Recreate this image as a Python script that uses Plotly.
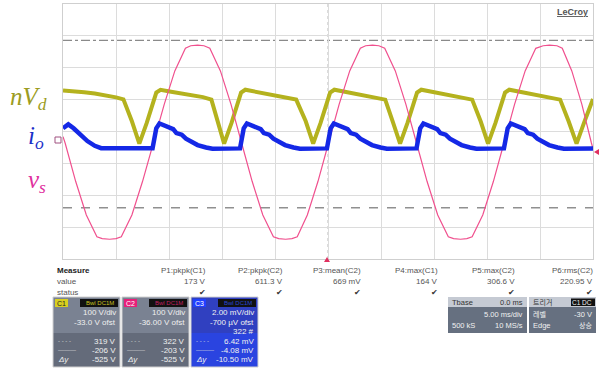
import plotly.graph_objects as go

W, H = 601, 369

# ---------------- data (time in ms, 5 ms/div) ----------------
# v_s on C2 (V)
vs_t = [0, 0.2, 1.2, 2.2, 3.2, 3.7, 4.4, 5.0, 5.5, 6.5, 7.5, 8.55,
        9.55, 10.55, 11.55, 12.05, 12.7, 13.3, 13.85, 14.85, 15.85, 16.85,
        17.85, 18.85, 19.85, 20.35, 21.0, 21.6, 22.1, 23.05, 24.05, 25.05,
        26.05, 27.05, 28.05, 28.55, 29.2, 29.8, 30.35, 31.35, 32.35, 33.35,
        34.35, 35.35, 36.35, 36.85, 37.5, 38.1, 38.6, 39.6, 40.6, 41.6,
        42.6, 43.6, 44.6, 45.3, 45.9, 46.6, 47.1, 48.0, 48.95, 49.85, 50.0]
vs_v = [20, 0, -121, -226, -294, -300, -302, -300, -294, -226, -121, 0,
        121, 226, 297, 305, 307, 305, 297, 226, 121, 0,
        -121, -226, -294, -300, -302, -300, -294, -226, -121, 0,
        121, 226, 297, 305, 307, 305, 297, 226, 121, 0,
        -121, -226, -294, -300, -302, -300, -294, -226, -121, 0,
        121, 226, 297, 305, 307, 305, 297, 226, 121, 0, -18]

# nV_d on C1 (V)
vd_t = [0, 1.0, 2.0, 3.0, 4.0, 5.0, 5.7, 6.5, 7.2,
        7.9, 8.8, 9.2, 10.2, 11.2, 12.2, 13.2, 14.0, 14.5, 15.2,
        15.9, 16.8, 17.2, 18.2, 19.2, 20.2, 21.2, 22.0, 22.9, 23.6,
        24.3, 25.2, 25.6, 26.6, 27.6, 28.6, 29.6, 30.4, 31.1, 31.8,
        32.5, 33.4, 33.8, 34.8, 35.8, 36.8, 37.8, 38.6, 39.4, 40.1,
        40.8, 41.7, 42.1, 43.1, 44.1, 45.1, 46.1, 46.9, 47.7, 48.45,
        49.15, 50.0]
vd_v = [162, 160, 156, 152, 147, 140, 134, 65, -5,
        60, 155, 164, 158, 153, 147, 141, 133, 75, -5,
        60, 155, 164, 158, 153, 147, 141, 133, 65, -5,
        60, 155, 164, 158, 153, 147, 141, 133, 65, -5,
        60, 155, 164, 158, 153, 147, 141, 133, 65, -5,
        60, 155, 164, 158, 153, 147, 141, 133, 65, -5,
        60, 135]

# i_o on C3 (mV)
io_t = [0, 0.5, 1.0, 1.6, 2.3, 3.0, 3.6, 8.45,
        8.8, 9.1, 9.5, 10.0, 10.4, 10.7, 11.2, 11.6, 12.1, 12.7, 13.5, 14.1, 16.7,
        17.05, 17.35, 17.75, 18.25, 18.65, 18.95, 19.45, 19.85, 20.35, 20.95, 21.75, 22.35, 24.9,
        25.25, 25.55, 25.95, 26.45, 26.85, 27.15, 27.65, 28.05, 28.55, 29.15, 29.95, 30.55, 33.35,
        33.7, 34.0, 34.4, 34.9, 35.3, 35.6, 36.1, 36.5, 37.0, 37.6, 38.4, 39.0, 41.6,
        41.95, 42.25, 42.65, 43.15, 43.55, 43.85, 44.35, 44.75, 45.25, 45.85, 46.65, 47.25, 50.0]
io_v = [0.9, 1.15, 0.9, 0.5, 0.1, -0.2, -0.35, -0.35,
        0.9, 1.2, 1.1, 1.0, 0.85, 0.6, 0.5, 0.25, 0.1, -0.15, -0.3, -0.38, -0.36,
        0.9, 1.2, 1.1, 1.0, 0.85, 0.6, 0.5, 0.25, 0.1, -0.15, -0.3, -0.38, -0.36,
        0.9, 1.2, 1.1, 1.0, 0.85, 0.6, 0.5, 0.25, 0.1, -0.15, -0.3, -0.38, -0.36,
        0.9, 1.2, 1.1, 1.0, 0.85, 0.6, 0.5, 0.25, 0.1, -0.15, -0.3, -0.38, -0.36,
        0.9, 1.2, 1.1, 1.0, 0.85, 0.6, 0.5, 0.25, 0.1, -0.15, -0.3, -0.38, -0.36]

# channel settings: (scale per div, offset)
c1_scale, c1_ofst = 100.0, -33.0
c2_scale, c2_ofst = 100.0, -36.0
c3_scale, c3_ofst = 2.0, -0.7

cursor_hi, cursor_lo = 322, -203   # C2 volts

meas_names = ["P1:pkpk(C1)", "P2:pkpk(C2)", "P3:mean(C2)", "P4:max(C1)", "P5:max(C2)", "P6:rms(C2)"]
meas_vals = ["173 V", "611.3 V", "669 mV", "164 V", "306.6 V", "220.95 V"]

# ---------------- helpers ----------------
def to_div(vals, scale, ofst):
    return [(v + ofst) / scale for v in vals]

def px(x):
    return x / W

def py(y):
    return 1 - y / H

YEL = "#b4b21e"
BLU = "#1428e6"
PNK = "#f0508e"

fig = go.Figure()
fig.add_trace(go.Scatter(x=vd_t, y=to_div(vd_v, c1_scale, c1_ofst), mode="lines",
                         line=dict(color=YEL, width=4), hoverinfo="skip"))
fig.add_trace(go.Scatter(x=vs_t, y=to_div(vs_v, c2_scale, c2_ofst), mode="lines",
                         line=dict(color=PNK, width=1.2), hoverinfo="skip"))
fig.add_trace(go.Scatter(x=io_t, y=to_div(io_v, c3_scale, c3_ofst), mode="lines",
                         line=dict(color=BLU, width=4.5), hoverinfo="skip"))

shapes = []
# cursors
shapes.append(dict(type="line", xref="x", yref="y", x0=0, x1=50,
                   y0=(cursor_hi + c2_ofst) / c2_scale, y1=(cursor_hi + c2_ofst) / c2_scale,
                   line=dict(color="#8a8a8a", width=1.2, dash="dashdot"), layer="below"))
shapes.append(dict(type="line", xref="x", yref="y", x0=0, x1=50,
                   y0=(cursor_lo + c2_ofst) / c2_scale, y1=(cursor_lo + c2_ofst) / c2_scale,
                   line=dict(color="#909090", width=1.6, dash="dash"), layer="below"))
# center dotted vertical
shapes.append(dict(type="line", xref="x", yref="y", x0=25, x1=25, y0=-4, y1=4,
                   line=dict(color="#b8b8b8", width=1, dash="dot"), layer="below"))

ann = []
def txt(x, y, s, size=8, color="#555", xanchor="left", bold=False, family="Liberation Sans, Arial", italic=False):
    if bold:
        s = "<b>" + s + "</b>"
    if italic:
        s = "<i>" + s + "</i>"
    ann.append(dict(x=px(x), y=py(y), xref="paper", yref="paper", text=s, showarrow=False,
                    xanchor=xanchor, yanchor="middle", font=dict(size=size, color=color, family=family)))

# side labels
txt(8, 98, "nV<sub>d</sub>", size=25, color="#9c9c22", family="Liberation Serif, DejaVu Serif", italic=True)
txt(26, 137, "i<sub>o</sub>", size=25, color="#1a30c8", family="Liberation Serif, DejaVu Serif", italic=True)
txt(26, 181, "v<sub>s</sub>", size=25, color="#e0309e", family="Liberation Serif, DejaVu Serif", italic=True)

# LeCroy logo
txt(572, 12, "<u>LeCroy</u>", size=9, color="#555", xanchor="center", bold=True)

# small markers
shapes.append(dict(type="rect", xref="paper", yref="paper", x0=px(55), x1=px(61), y0=py(143), y1=py(137),
                   line=dict(color="#a05080", width=1), fillcolor="rgba(0,0,0,0)"))
shapes.append(dict(type="path", xref="paper", yref="paper",
                   path=f"M {px(594)},{py(152)} L {px(599)},{py(149)} L {px(599)},{py(155)} Z",
                   fillcolor="#e03060", line=dict(width=0)))
shapes.append(dict(type="path", xref="paper", yref="paper",
                   path=f"M {px(324)},{py(262)} L {px(330)},{py(262)} L {px(327)},{py(257)} Z",
                   fillcolor="#e03060", line=dict(width=0)))

# measure table
txt(55, 270, "Measure", size=8, color="#222", bold=True)
txt(55, 281, "value", size=8, color="#555")
txt(55, 292, "status", size=8, color="#555")
col_r = [208, 285, 363, 440, 517, 595]
for xr, nm, vl in zip(col_r, meas_names, meas_vals):
    txt(xr, 270, nm, size=8, color="#555", xanchor="right")
    txt(xr, 281, vl, size=8, color="#555", xanchor="right")
    txt(xr, 292, "✔", size=8, color="#333", xanchor="right")

def rect(x0, y0, x1, y1, fill, line=None):
    shapes.append(dict(type="rect", xref="paper", yref="paper", x0=px(x0), x1=px(x1), y0=py(y1), y1=py(y0),
                       fillcolor=fill, line=dict(width=0) if line is None else line, layer="above"))

# channel boxes
boxes = [
    (53, 120, "C1", "#d8d020", "#222", "Bwl DC1M", "#c8c020",
     ["100 V/div", "-33.0 V ofst"], ["319 V", "-206 V", "-525 V"], "#7a8292", "#646b7a"),
    (122, 189, "C2", "#e8207a", "#e8207a", "Bwl DC1M", "#c02060",
     ["100 V/div", "-36.00 V ofst"], ["322 V", "-203 V", "-525 V"], "#7a8292", "#646b7a"),
    (191, 258, "C3", "#2040ff", "#2040ff", "Bwl DC1M", "#2848d0",
     ["2.00 mV/div", "-700 µV ofst", "322 #"], ["6.42 mV", "-4.08 mV", "-10.50 mV"], "#3040c0", "#2a44e0"),
]
for x0, x1, lab, bcol, labcol, hdr, hcol, top, bot, c_top, c_bot in boxes:
    rect(x0, 297, x1, 367, c_top)
    rect(x0, 333, x1, 367, c_bot)
    rect(x0 + 2, 299, x0 + 15, 307, bcol)
    rect(x0 + 27, 299, x1 - 2, 307, "#111")
    txt(x0 + 8.5, 303, lab, size=7, color="#222" if lab == "C1" else "#fff", xanchor="center")
    txt(x1 - 4, 303, hdr, size=6, color=hcol, xanchor="right")
    ys = [312, 322, 331]
    for i, s in enumerate(top):
        txt(x1 - 2, ys[i], s, size=8, color="#f0f0f0", xanchor="right")
    for i, s in enumerate(bot):
        txt(x1 - 2, [341, 350, 359][i], s, size=8, color="#f0f0f0", xanchor="right")
    txt(x0 + 3, 341, "- - - -", size=6, color="#dddddd")
    txt(x0 + 3, 350, "———", size=6, color="#dddddd")
    txt(x0 + 3, 359, "Δy", size=8, color="#f0f0f0", italic=True)
    shapes.append(dict(type="rect", xref="paper", yref="paper", x0=px(x0), x1=px(x1), y0=py(367), y1=py(297),
                       fillcolor="rgba(0,0,0,0)", line=dict(color="#d0d0d0", width=1), layer="above"))

# timebase box
rect(448, 297, 527, 333, "#667080")
rect(448, 297, 527, 307, "#c5cad3")
txt(450, 302, "Tbase", size=7.5, color="#333")
txt(525, 302, "0.0 ms", size=7.5, color="#333", xanchor="right")
txt(525, 314, "5.00 ms/div", size=7.5, color="#f0f0f0", xanchor="right")
txt(450, 325, "500 kS", size=7.5, color="#f0f0f0")
txt(525, 325, "10 MS/s", size=7.5, color="#f0f0f0", xanchor="right")

# trigger box
rect(529, 297, 596, 333, "#667080")
rect(529, 297, 596, 307, "#c5cad3")
rect(571, 298.5, 595, 306, "#111")
txt(531, 302, "트리거", size=7, color="#333", family="Noto Sans CJK KR")
txt(594, 302, "C1 DC", size=6.5, color="#eee", xanchor="right")
txt(531, 314, "레벨", size=7, color="#f0f0f0", family="Noto Sans CJK KR")
txt(594, 314, "-30 V", size=7.5, color="#f0f0f0", xanchor="right")
txt(531, 325, "Edge", size=7.5, color="#f0f0f0")
txt(594, 325, "상승", size=7, color="#f0f0f0", xanchor="right", family="Noto Sans CJK KR")

fig.update_layout(
    width=W, height=H, margin=dict(l=0, r=0, t=0, b=0),
    paper_bgcolor="white", plot_bgcolor="white", showlegend=False,
    shapes=shapes, annotations=ann,
    xaxis=dict(domain=[px(63), px(593)], range=[0, 50], dtick=5, tick0=0,
               showgrid=True, gridcolor="#dcdcdc", gridwidth=1, zeroline=False,
               showticklabels=False, ticks="", showline=True, linecolor="#cfcfcf", mirror=True),
    yaxis=dict(domain=[py(259), py(4)], range=[-4, 4], dtick=1, tick0=0,
               showgrid=True, gridcolor="#dcdcdc", gridwidth=1, zeroline=False,
               showticklabels=False, ticks="", showline=True, linecolor="#cfcfcf", mirror=True),
)

fig.write_html("out.html", config={"displayModeBar": False},
               post_script="document.body.style.margin='0px';document.body.style.overflow='hidden';")
